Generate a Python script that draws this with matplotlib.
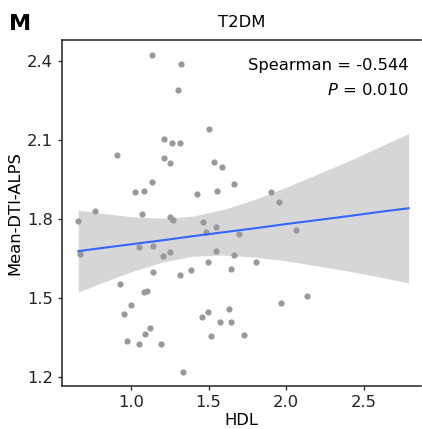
import matplotlib
matplotlib.use("Agg")
import matplotlib.pyplot as plt

# HDL vs Mean-DTI-ALPS, T2DM group
hdl = [1.134, 1.325, 1.303, 1.505, 1.213, 1.265, 1.314, 0.912, 1.213, 1.254,
       1.534, 1.585, 1.134, 1.024, 1.084, 1.424, 1.555, 1.665, 0.771, 1.073,
       1.254, 1.274, 0.660, 1.465, 1.545, 1.484, 1.694, 0.673, 1.052, 1.144,
       1.205, 1.254, 1.545, 1.665, 1.495, 1.144, 1.314, 1.385, 1.645, 0.931,
       1.084, 1.105, 1.003, 0.953, 1.495, 1.455, 1.635, 1.574, 1.645, 1.123,
       1.092, 0.972, 1.052, 1.194, 1.516, 1.334, 1.727, 1.968, 1.905, 1.957,
       2.066, 2.137, 1.806]
alps = [2.424, 2.389, 2.291, 2.142, 2.104, 2.088, 2.090, 2.045, 2.032, 2.014,
        2.018, 1.999, 1.940, 1.902, 1.908, 1.894, 1.905, 1.934, 1.829, 1.818,
        1.806, 1.796, 1.792, 1.787, 1.768, 1.752, 1.743, 1.668, 1.693, 1.696,
        1.660, 1.673, 1.678, 1.662, 1.637, 1.597, 1.587, 1.607, 1.609, 1.554,
        1.522, 1.525, 1.474, 1.438, 1.445, 1.428, 1.457, 1.409, 1.409, 1.385,
        1.362, 1.335, 1.324, 1.325, 1.354, 1.220, 1.360, 1.481, 1.904, 1.865,
        1.757, 1.506, 1.635]

# fitted line and 95% CI band as drawn in the figure
fit_x = [0.66, 0.8, 1.0, 1.2, 1.4, 1.6, 1.8, 2.0, 2.2, 2.4, 2.6, 2.79]
fit_y = [1.678, 1.689, 1.704, 1.719, 1.735, 1.750, 1.765, 1.781, 1.796, 1.811, 1.827, 1.841]
fit_lo = [1.522, 1.555, 1.599, 1.636, 1.659, 1.663, 1.655, 1.641, 1.622, 1.602, 1.580, 1.557]
fit_hi = [1.834, 1.823, 1.809, 1.803, 1.811, 1.837, 1.875, 1.921, 1.970, 2.020, 2.074, 2.125]

spearman_txt = "Spearman = -0.544"
p_txt = "$\\it{P}$ = 0.010"

fig = plt.figure(figsize=(4.22, 4.29), dpi=100)
ax = fig.add_axes([0.1469, 0.1002, 0.8507, 0.8066])

ax.fill_between(fit_x, fit_lo, fit_hi, color="#d6d6d6", lw=0, zorder=1)
ax.scatter(hdl, alps, s=20, color="#999999", lw=0, zorder=2)
ax.plot(fit_x, fit_y, color="#3366ff", lw=1.5, zorder=3)

ax.set_xlim(0.555, 2.87)
ax.set_ylim(1.165, 2.481)
ax.set_xticks([1.0, 1.5, 2.0, 2.5])
ax.set_yticks([1.2, 1.5, 1.8, 2.1, 2.4])
ax.tick_params(length=3, width=1, color="#333333", labelsize=11.8, labelcolor="#222222")

for side in ["left", "bottom", "top"]:
    ax.spines[side].set_linewidth(1.1)
    ax.spines[side].set_color("#222222")
ax.spines["right"].set_visible(False)

ax.set_xlabel("HDL", fontsize=11.8, labelpad=2)
ax.set_ylabel("Mean-DTI-ALPS", fontsize=11.8, labelpad=3)
ax.set_title("T2DM", fontsize=11.8, pad=9)

ax.text(0.965, 0.925, spearman_txt, transform=ax.transAxes, ha="right", va="center", fontsize=11.8)
ax.text(0.965, 0.855, p_txt, transform=ax.transAxes, ha="right", va="center", fontsize=11.8)

fig.text(0.022, 0.945, "M", fontsize=16, fontweight="bold", va="center")

fig.savefig("out.png", dpi=100)
